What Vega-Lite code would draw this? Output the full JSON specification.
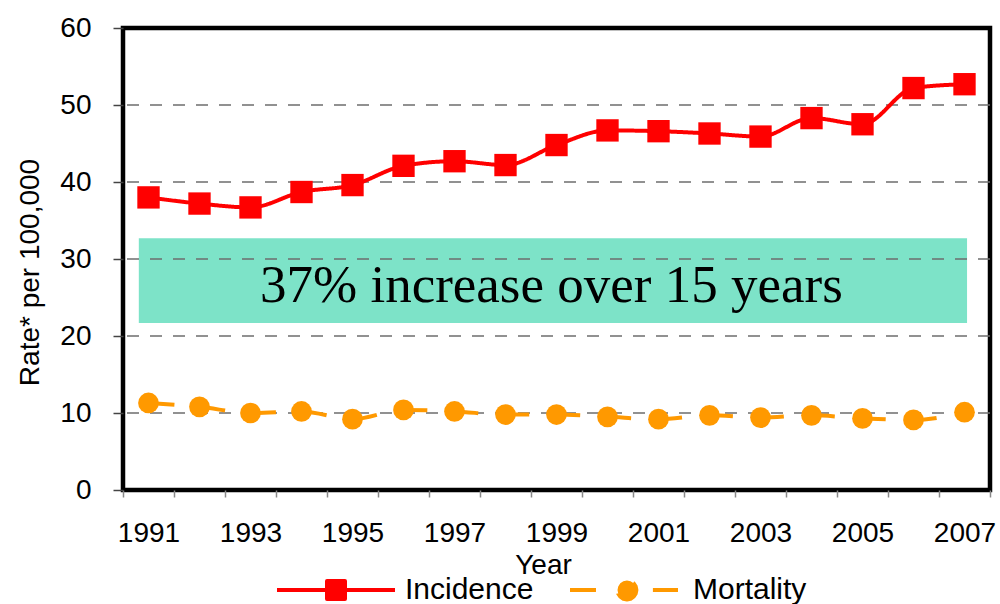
{
  "$schema": "https://vega.github.io/schema/vega-lite/v6.json",
  "width": 867,
  "height": 462,
  "autosize": {"type": "none"},
  "padding": {"left": 123, "top": 28, "right": 10, "bottom": 114},
  "background": "white",
  "config": {
    "view": {"stroke": "black", "strokeWidth": 4.5},
    "font": "Liberation Sans",
    "axis": {"labelFont": "Liberation Sans", "titleFont": "Liberation Sans", "labelColor": "black", "titleColor": "black", "titleFontWeight": "normal", "grid": false, "domain": false}
  },
  "datasets": {
    "rates": [
      {"year": 1991, "series": "Incidence", "rate": 38.0},
      {"year": 1992, "series": "Incidence", "rate": 37.2},
      {"year": 1993, "series": "Incidence", "rate": 36.7},
      {"year": 1994, "series": "Incidence", "rate": 38.7},
      {"year": 1995, "series": "Incidence", "rate": 39.6},
      {"year": 1996, "series": "Incidence", "rate": 42.1},
      {"year": 1997, "series": "Incidence", "rate": 42.7},
      {"year": 1998, "series": "Incidence", "rate": 42.2},
      {"year": 1999, "series": "Incidence", "rate": 44.8},
      {"year": 2000, "series": "Incidence", "rate": 46.7},
      {"year": 2001, "series": "Incidence", "rate": 46.6},
      {"year": 2002, "series": "Incidence", "rate": 46.3},
      {"year": 2003, "series": "Incidence", "rate": 45.9},
      {"year": 2004, "series": "Incidence", "rate": 48.3},
      {"year": 2005, "series": "Incidence", "rate": 47.5},
      {"year": 2006, "series": "Incidence", "rate": 52.2},
      {"year": 2007, "series": "Incidence", "rate": 52.7},
      {"year": 1991, "series": "Mortality", "rate": 11.3},
      {"year": 1992, "series": "Mortality", "rate": 10.8},
      {"year": 1993, "series": "Mortality", "rate": 10.0},
      {"year": 1994, "series": "Mortality", "rate": 10.2},
      {"year": 1995, "series": "Mortality", "rate": 9.2},
      {"year": 1996, "series": "Mortality", "rate": 10.4},
      {"year": 1997, "series": "Mortality", "rate": 10.2},
      {"year": 1998, "series": "Mortality", "rate": 9.8},
      {"year": 1999, "series": "Mortality", "rate": 9.8},
      {"year": 2000, "series": "Mortality", "rate": 9.5},
      {"year": 2001, "series": "Mortality", "rate": 9.2},
      {"year": 2002, "series": "Mortality", "rate": 9.7},
      {"year": 2003, "series": "Mortality", "rate": 9.4},
      {"year": 2004, "series": "Mortality", "rate": 9.7},
      {"year": 2005, "series": "Mortality", "rate": 9.3},
      {"year": 2006, "series": "Mortality", "rate": 9.1},
      {"year": 2007, "series": "Mortality", "rate": 10.1}
    ]
  },
  "layer": [
    {
      "data": {"values": [{"x1": 1990.81, "x2": 2007.05, "y1": 21.7, "y2": 32.7}]},
      "mark": {"type": "rect", "fill": "#7DE3C8"},
      "encoding": {
        "x": {
          "field": "x1", "type": "quantitative", "title": "Year",
          "scale": {"domain": [1990.5, 2007.5], "nice": false, "zero": false},
          "axis": {
            "values": [1990.5, 1991.5, 1992.5, 1993.5, 1994.5, 1995.5, 1996.5, 1997.5, 1998.5, 1999.5, 2000.5, 2001.5, 2002.5, 2003.5, 2004.5, 2005.5, 2006.5, 2007.5],
            "labelExpr": "(datum.value + 0.5) % 2 == 1 ? format(datum.value + 0.5, 'd') : ''",
            "labelOffset": 25.5,
            "labelFlush": false,
            "labelOverlap": false,
            "labelBound": false,
            "labelFontSize": 28,
            "labelPadding": 22,
            "tickSize": 7,
            "tickWidth": 1.5,
            "tickColor": "#888888",
            "titleFontSize": 28,
            "titleX": 420,
            "titleY": 83,
            "titleBaseline": "alphabetic",
            "titleAnchor": null
          }
        },
        "x2": {"field": "x2"},
        "y": {
          "field": "y1", "type": "quantitative", "title": "Rate* per 100,000",
          "scale": {"domain": [0, 60], "nice": false},
          "axis": {
            "values": [0, 10, 20, 30, 40, 50, 60],
            "labelFontSize": 28,
            "labelPadding": 22,
            "tickSize": 10,
            "tickWidth": 1.5,
            "tickColor": "#444444",
            "titleFontSize": 28,
            "titleX": -85,
            "titleY": 244,
            "titleBaseline": "alphabetic",
            "titleAnchor": null
          }
        },
        "y2": {"field": "y2"}
      }
    },
    {
      "data": {"values": [{"v": 10}, {"v": 20}, {"v": 30}, {"v": 40}, {"v": 50}]},
      "mark": {"type": "rule", "color": "#6e6e6e", "strokeWidth": 1.6, "strokeDash": [12, 11]},
      "encoding": {
        "y": {"field": "v", "type": "quantitative", "title": "Rate* per 100,000"}
      }
    },
    {
      "data": {"values": [{"label": "37% increase over 15 years", "x": 1998.9, "y": 24.42}]},
      "mark": {"type": "text", "font": "Liberation Serif", "fontSize": 53, "baseline": "alphabetic", "align": "center", "color": "black"},
      "encoding": {
        "x": {"field": "x", "type": "quantitative", "title": "Year"},
        "y": {"field": "y", "type": "quantitative", "title": "Rate* per 100,000"},
        "text": {"field": "label"}
      }
    },
    {
      "data": {"name": "rates"},
      "mark": {"type": "line", "strokeWidth": 4, "interpolate": "monotone"},
      "encoding": {
        "x": {"field": "year", "type": "quantitative", "title": "Year"},
        "y": {"field": "rate", "type": "quantitative", "title": "Rate* per 100,000"},
        "color": {
          "field": "series", "type": "nominal",
          "scale": {"domain": ["Incidence", "Mortality"], "range": ["#FF0000", "#FF9900"]},
          "legend": {
            "orient": "none",
            "legendX": 152,
            "legendY": 501,
            "direction": "horizontal",
            "title": null,
            "padding": 0,
            "symbolSize": 13924,
            "symbolStrokeWidth": 4,
            "labelFontSize": 30,
            "labelFont": "Liberation Sans",
            "labelColor": "black",
            "labelOffset": 8,
            "columnPadding": 29,
            "labelBaseline": "middle",
            "encode": {
              "symbols": {
                "update": {
                  "shape": {"signal": "datum.value === 'Incidence' ? 'M-1,0H1M-0.1525,-0.1525H0.1525V0.1525H-0.1525Z' : 'M-0.915,0H-0.475M0.49,0H0.915M0.21,0L0.1978,0.0612L0.1631,0.1131L0.1112,0.1478L0.05,0.16L-0.0112,0.1478L-0.0631,0.1131L-0.0978,0.0612L-0.11,0L-0.0978,-0.0612L-0.0631,-0.1131L-0.0112,-0.1478L0.05,-0.16L0.1112,-0.1478L0.1631,-0.1131L0.1978,-0.0612Z'"},
                  "fill": {"signal": "datum.value === 'Incidence' ? '#FF0000' : '#FF9900'"},
                  "stroke": {"signal": "datum.value === 'Incidence' ? '#FF0000' : '#FF9900'"},
                  "strokeDash": {"value": [1, 0]},
                  "strokeJoin": {"value": "round"},
                  "opacity": {"value": 1}
                }
              }
            }
          }
        },
        "strokeDash": {
          "field": "series", "type": "nominal",
          "scale": {"domain": ["Incidence", "Mortality"], "range": [[1, 0], [26, 25]]},
          "legend": null
        }
      }
    },
    {
      "data": {"name": "rates"},
      "transform": [{"filter": "datum.series === 'Incidence'"}],
      "mark": {"type": "point", "shape": "square", "filled": true, "size": 500, "color": "#FF0000", "opacity": 1},
      "encoding": {
        "x": {"field": "year", "type": "quantitative", "title": "Year"},
        "y": {"field": "rate", "type": "quantitative", "title": "Rate* per 100,000"}
      }
    },
    {
      "data": {"name": "rates"},
      "transform": [{"filter": "datum.series === 'Mortality'"}],
      "mark": {"type": "point", "shape": "circle", "filled": true, "size": 430, "color": "#FF9900", "opacity": 1},
      "encoding": {
        "x": {"field": "year", "type": "quantitative", "title": "Year"},
        "y": {"field": "rate", "type": "quantitative", "title": "Rate* per 100,000"}
      }
    }
  ]
}
